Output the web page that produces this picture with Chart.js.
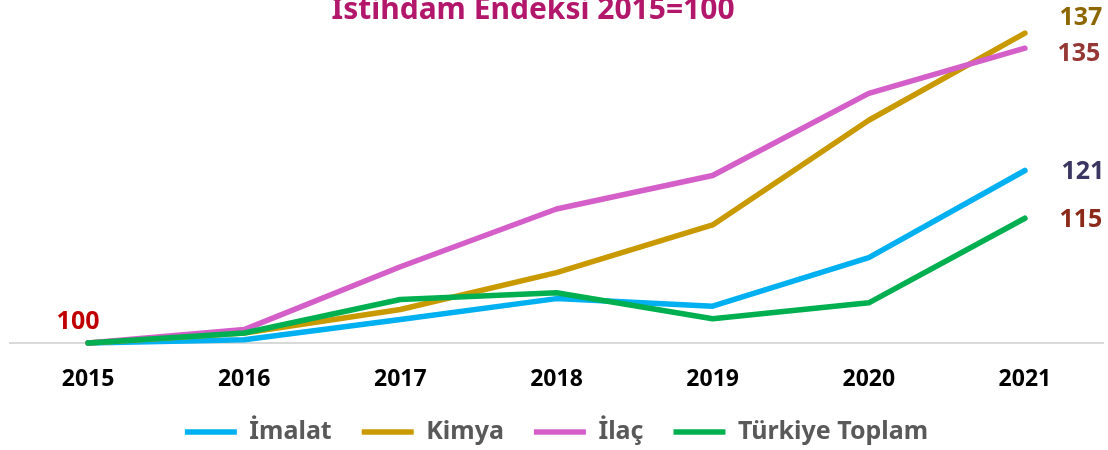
<!DOCTYPE html>
<html>
<head>
<meta charset="utf-8">
<script src="https://cdn.jsdelivr.net/npm/chart.js@4.4.1/dist/chart.umd.min.js"></script>
<style>
  html, body { margin: 0; padding: 0; background: #fff; }
  #wrap { width: 1108px; height: 450px; position: relative; }
</style>
</head>
<body>
<div id="wrap"><canvas id="c"></canvas></div>
<script>
var years = ["2015", "2016", "2017", "2018", "2019", "2020", "2021"];
var imalat = [100, 100.4, 102.8, 105.3, 104.4, 110.2, 120.6];
var kimya = [100, 101.2, 104.0, 108.4, 114.1, 126.6, 137.0];
var ilac = [100, 101.6, 109.1, 116.0, 120.0, 129.8, 135.2];
var turkiye = [100, 101.2, 105.2, 106.0, 102.9, 104.8, 114.9];
var seriesNames = ["İmalat", "Kimya", "İlaç", "Türkiye Toplam"];
var lineColors = ["#00B0F0", "#C99A00", "#D55FC8", "#00B050"];
var endLabelColors = ["#3A3561", "#8C6600", "#953735", "#8C2A1A"];

var FONT = "'Noto Sans', 'Open Sans', sans-serif";

function ds(label, data, color, order) {
    return {
        label: label,
        data: data,
        order: order,
        borderColor: color,
        backgroundColor: color,
        borderWidth: 5.5,
        borderCapStyle: "round",
        borderJoinStyle: "round",
        pointRadius: 0,
        pointHoverRadius: 0,
        tension: 0,
        clip: false,
    };
}

// title + value labels drawn on top
var labelsPlugin = {
    id: "labels",
    afterDatasetsDraw: function (chart) {
        var ctx = chart.ctx;
        ctx.save();
        ctx.font = "bold 30px " + FONT;
        ctx.fillStyle = "#B3176B";
        ctx.textAlign = "center";
        ctx.textBaseline = "alphabetic";
        ctx.fillText("İstihdam Endeksi 2015=100", 533, 19);

        ctx.font = "bold 25px " + FONT;
        ctx.textBaseline = "middle";
        var dx = [58, 56, 54, 56];
        var dy = [1, -15, 6, 2];
        chart.data.datasets.forEach(function (d, i) {
            var pts = chart.getDatasetMeta(i).data;
            var p = pts[pts.length - 1];
            ctx.fillStyle = endLabelColors[i];
            ctx.fillText(Math.round(d.data[d.data.length - 1]), p.x + dx[i], p.y + dy[i]);
        });
        var p0 = chart.getDatasetMeta(0).data[0];
        ctx.fillStyle = "#C00000";
        ctx.fillText("100", p0.x - 10, p0.y - 21);
        ctx.restore();
    },
};

new Chart(document.getElementById("c"), {
    type: "line",
    data: {
        labels: years,
        datasets: [
            ds(seriesNames[0], imalat, lineColors[0], 3),
            ds(seriesNames[1], kimya, lineColors[1], 2),
            ds(seriesNames[2], ilac, lineColors[2], 1),
            ds(seriesNames[3], turkiye, lineColors[3], 0),
        ],
    },
    options: {
        responsive: true,
        maintainAspectRatio: false,
        animation: false,
        layout: { padding: { top: 8, left: 10, right: 5, bottom: -4.5 } },
        scales: {
            x: {
                offset: true,
                grid: { display: false, drawTicks: false },
                border: { display: true, color: "#D9D9D9", width: 2 },
                ticks: { color: "#000", padding: 23, font: { family: FONT, size: 23, weight: "bold" } },
                afterFit: function (scale) { scale.height = 46.5; },
            },
            y: {
                display: false,
                min: 100,
                max: 140,
            },
        },
        plugins: {
            tooltip: { enabled: false },
            legend: {
                position: "bottom",
                labels: {
                    usePointStyle: true,
                    pointStyle: "line",
                    pointStyleWidth: 52,
                    padding: 30,
                    color: "#595959",
                    font: { family: FONT, size: 25, weight: "bold" },
                    sort: function (a, b) { return a.datasetIndex - b.datasetIndex; },
                },
            },
        },
    },
    plugins: [labelsPlugin],
});
</script>
</body>
</html>
